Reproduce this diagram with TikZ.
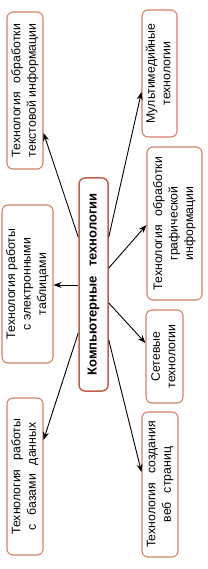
\documentclass[tikz,border=0pt]{standalone}
\usepackage{fontspec}
\setmainfont{Liberation Sans}
\usetikzlibrary{arrows.meta}
\definecolor{boxline}{RGB}{214,128,100}
\definecolor{cline}{RGB}{196,96,74}
\newcommand{\rtext}[1]{\rotatebox{90}{\begin{tabular}{@{}c@{}}#1\end{tabular}}}
\newcommand{\gap}{\hspace{9pt}}
\tikzset{
  box/.style={draw=boxline, line width=1.1pt, rounded corners=6pt, fill=white, inner sep=0pt, font=\fontsize{12.3}{15.5}\selectfont},
  cbox/.style={box, draw=cline, line width=1.5pt, font=\fontsize{13}{15}\selectfont\bfseries},
  arr/.style={-{Stealth[length=8pt,width=6pt]}, line width=0.9pt, black}
}
\begin{document}
\begin{tikzpicture}[x=1pt,y=-1pt]
\useasboundingbox (0,0) rectangle (207,569);
\node[cbox, minimum width=29pt, minimum height=213pt] (c) at (93.5,284.5) {\rtext{Компьютерные\gap технологии}};
\node[box, minimum width=36pt, minimum height=157pt] (a) at (25,90.5) {\rtext{Технология\gap обработки\\текстовой информации}};
\node[box, minimum width=35pt, minimum height=127pt] (b) at (159.5,73.5) {\rtext{Мультимедийные\\технологии}};
\node[box, minimum width=55pt, minimum height=153pt] (cc) at (174.5,223.5) {\rtext{Технология\gap обработки\\графической\\информации}};
\node[box, minimum width=37pt, minimum height=93pt] (d) at (164.5,356.5) {\rtext{Сетевые\\технологии}};
\node[box, minimum width=36pt, minimum height=145pt] (e) at (160,484.5) {\rtext{Технология\gap создания\\веб\gap страниц}};
\node[box, minimum width=36pt, minimum height=157pt] (f) at (25,476.5) {\rtext{Технология\gap работы\\с\gap базами\gap данных}};
\node[box, minimum width=51pt, minimum height=158pt] (g) at (27.5,284) {\rtext{Технология работы\\с электронными\\таблицами}};
\draw[arr] (c.west |- 0,237) -- (a.east |- 0,133);
\draw[arr] (c.east |- 0,237) -- (b.west |- 0,92);
\draw[arr] (c.east |- 0,268) -- (cc.west |- 0,225);
\draw[arr] (c.east |- 0,303) -- (d.west |- 0,343);
\draw[arr] (c.east |- 0,340) -- (e.west |- 0,472);
\draw[arr] (c.west |- 0,333) -- (f.east |- 0,440);
\draw[arr] (c.west |- 0,285) -- (g.east |- 0,285);
\end{tikzpicture}
\end{document}
